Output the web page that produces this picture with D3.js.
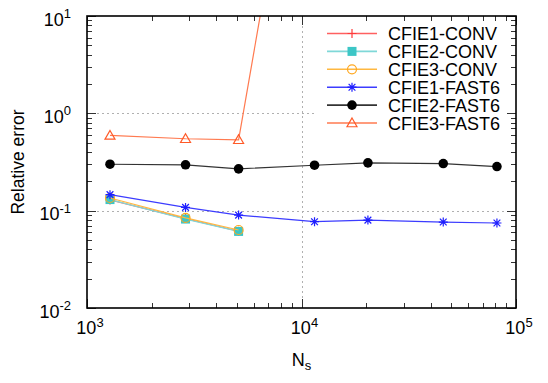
<!DOCTYPE html>
<html lang="en">
<head>
<meta charset="UTF-8" />
<script src="https://cdnjs.cloudflare.com/ajax/libs/d3/7.8.5/d3.min.js"></script>
<style>
body { margin: 0; background: #fff; }
svg text { font-family: "Liberation Sans", Arial, sans-serif; fill: #000; }
</style>
</head>
<body>
<svg id="chart" width="548" height="383"></svg>
<script>

// sample counts (x values)
const nsShort = [1280, 2880, 5090];
const nsLong = [1280, 2880, 5090, 11500, 20400, 45800, 81500];

const cfie1Conv = [0.129, 0.083, 0.0615];
const cfie2Conv = [0.130, 0.082, 0.0612];
const cfie3Conv = [0.135, 0.0842, 0.0633];
const cfie1Fast = [0.146, 0.108, 0.090, 0.077, 0.080, 0.0764, 0.0747];
const cfie2Fast = [0.300, 0.296, 0.269, 0.293, 0.310, 0.305, 0.284];
const cfie3FastX = [1280, 2880, 5090, 11500];
const cfie3Fast = [0.593, 0.548, 0.535, 16000];

const xTicks = [1e3, 1e4, 1e5];
const yTicks = [1e-2, 1e-1, 1e0, 1e1];

const series = [
  { name: 'CFIE1-CONV', xs: nsShort, ys: cfie1Conv, color: '#ff3a3a', line: '#ff6060', marker: 'plus' },
  { name: 'CFIE2-CONV', xs: nsShort, ys: cfie2Conv, color: '#3cc6c6', line: '#7fd8d8', marker: 'square' },
  { name: 'CFIE3-CONV', xs: nsShort, ys: cfie3Conv, color: '#ffa820', line: '#ffb840', marker: 'ocircle' },
  { name: 'CFIE1-FAST6', xs: nsLong, ys: cfie1Fast, color: '#1e1eff', line: '#3c3cff', marker: 'star' },
  { name: 'CFIE2-FAST6', xs: nsLong, ys: cfie2Fast, color: '#000000', line: '#333333', marker: 'dot' },
  { name: 'CFIE3-FAST6', xs: cfie3FastX, ys: cfie3Fast, color: '#ff5a28', line: '#ff7a50', marker: 'triangle' }
];

const margin = { left: 87, right: 32, top: 16, bottom: 75 };
const W = 548, H = 383;
const x = d3.scaleLog().domain([1e3, 1e5]).range([margin.left, W - margin.right]);
const y = d3.scaleLog().domain([1e-2, 1e1]).range([H - margin.bottom, margin.top]);

const svg = d3.select('#chart');

svg.append('defs').append('clipPath').attr('id', 'plotclip')
  .append('rect')
  .attr('x', x.range()[0]).attr('y', y.range()[1])
  .attr('width', x.range()[1] - x.range()[0])
  .attr('height', y.range()[0] - y.range()[1]);

// grid
const grid = svg.append('g').attr('stroke', '#b0b0b0').attr('stroke-dasharray', '2,3').attr('stroke-width', 1);
[1e-1, 1e0].forEach(v => {
  grid.append('line')
    .attr('x1', x.range()[0]).attr('x2', x.range()[1])
    .attr('y1', Math.round(y(v)) + 0.5).attr('y2', Math.round(y(v)) + 0.5);
});
grid.append('line')
  .attr('x1', Math.round(x(1e4)) + 0.5).attr('x2', Math.round(x(1e4)) + 0.5)
  .attr('y1', y.range()[1]).attr('y2', y.range()[0]);

// legend background hides grid behind it
svg.append('rect')
  .attr('x', 317).attr('y', y.range()[1] + 1)
  .attr('width', x.range()[1] - 317 - 1).attr('height', 118)
  .attr('fill', '#fff');

function drawMarker(g, type, color, cx, cy) {
  const s = 4.5;
  if (type === 'plus') {
    g.append('path').attr('d', `M${cx - s},${cy}H${cx + s}M${cx},${cy - s}V${cy + s}`)
      .attr('stroke', color).attr('stroke-width', 1.2).attr('fill', 'none');
  } else if (type === 'square') {
    g.append('rect').attr('x', cx - s).attr('y', cy - s).attr('width', 2 * s).attr('height', 2 * s)
      .attr('fill', color);
  } else if (type === 'ocircle') {
    g.append('circle').attr('cx', cx).attr('cy', cy).attr('r', s)
      .attr('fill', 'none').attr('stroke', color).attr('stroke-width', 1.2);
  } else if (type === 'star') {
    const d = s * 0.75;
    g.append('path')
      .attr('d', `M${cx - s},${cy}H${cx + s}M${cx},${cy - s}V${cy + s}M${cx - d},${cy - d}L${cx + d},${cy + d}M${cx - d},${cy + d}L${cx + d},${cy - d}`)
      .attr('stroke', color).attr('stroke-width', 1.2).attr('fill', 'none');
  } else if (type === 'dot') {
    g.append('circle').attr('cx', cx).attr('cy', cy).attr('r', s + 0.3).attr('fill', color);
  } else if (type === 'triangle') {
    const t = 5;
    g.append('path')
      .attr('d', `M${cx},${cy - t}L${cx + t},${cy + t * 0.75}L${cx - t},${cy + t * 0.75}Z`)
      .attr('fill', 'none').attr('stroke', color).attr('stroke-width', 1.2);
  }
}

const line = d3.line().x(d => x(d[0])).y(d => y(d[1]));
const plot = svg.append('g').attr('clip-path', 'url(#plotclip)');

series.forEach(s => {
  const pts = s.xs.map((v, i) => [v, s.ys[i]]);
  plot.append('path').attr('d', line(pts))
    .attr('fill', 'none').attr('stroke', s.line).attr('stroke-width', 1.2);
  const mg = plot.append('g');
  pts.forEach(p => drawMarker(mg, s.marker, s.color, x(p[0]), y(p[1])));
});

// legend
const leg = svg.append('g');
series.forEach((s, i) => {
  const ly = 33.5 + i * 17.9;
  leg.append('line').attr('x1', 327).attr('x2', 377).attr('y1', ly).attr('y2', ly)
    .attr('stroke', s.line).attr('stroke-width', 1.6);
  drawMarker(leg, s.marker, s.color, 352, ly);
  leg.append('text').attr('x', 388).attr('y', ly + 6.5).attr('font-size', 18).text(s.name);
});

// axes with inward ticks on all four sides
const frame = svg.append('g');
const x0 = x.range()[0], x1 = x.range()[1], y0 = y.range()[0], y1 = y.range()[1];

const xMinor = [];
for (let e = 3; e < 5; e++) for (let m = 2; m <= 9; m++) xMinor.push(m * Math.pow(10, e));
const yMinor = [];
for (let e = -2; e < 1; e++) for (let m = 2; m <= 9; m++) yMinor.push(m * Math.pow(10, e));

const tickG = frame.append('g').attr('stroke', '#333').attr('stroke-width', 1);
xMinor.forEach(v => {
  const px = Math.round(x(v)) + 0.5;
  tickG.append('line').attr('x1', px).attr('x2', px).attr('y1', y0).attr('y2', y0 - 5);
  tickG.append('line').attr('x1', px).attr('x2', px).attr('y1', y1).attr('y2', y1 + 5);
});
xTicks.forEach(v => {
  const px = Math.round(x(v)) + 0.5;
  tickG.append('line').attr('x1', px).attr('x2', px).attr('y1', y0).attr('y2', y0 - 9);
  tickG.append('line').attr('x1', px).attr('x2', px).attr('y1', y1).attr('y2', y1 + 9);
});
yMinor.forEach(v => {
  const py = Math.round(y(v)) + 0.5;
  tickG.append('line').attr('x1', x0).attr('x2', x0 + 5).attr('y1', py).attr('y2', py);
  tickG.append('line').attr('x1', x1).attr('x2', x1 - 5).attr('y1', py).attr('y2', py);
});
yTicks.forEach(v => {
  const py = Math.round(y(v)) + 0.5;
  tickG.append('line').attr('x1', x0).attr('x2', x0 + 9).attr('y1', py).attr('y2', py);
  tickG.append('line').attr('x1', x1).attr('x2', x1 - 9).attr('y1', py).attr('y2', py);
});

frame.append('rect')
  .attr('x', x0).attr('y', y1).attr('width', x1 - x0).attr('height', y0 - y1)
  .attr('fill', 'none').attr('stroke', '#000').attr('stroke-width', 1.6);

function powLabel(g, px, py, exp, anchor) {
  const t = g.append('text').attr('x', px).attr('y', py).attr('font-size', 18).attr('text-anchor', anchor);
  t.append('tspan').text('10');
  t.append('tspan').attr('dy', -7.5).attr('font-size', 13).text(exp);
}

xTicks.forEach(v => powLabel(svg, x(v) + 3, y0 + 26, Math.round(Math.log10(v)), 'middle'));
yTicks.forEach(v => powLabel(svg, x0 - 16, y(v) + 9.5, Math.round(Math.log10(v)), 'end'));

// axis titles
const xt = svg.append('text').attr('x', x(1e4)).attr('y', 366).attr('font-size', 18).attr('text-anchor', 'middle');
xt.append('tspan').text('N');
xt.append('tspan').attr('dy', 4).attr('font-size', 13).text('s');

svg.append('text')
  .attr('transform', `translate(24,${(y0 + y1) / 2}) rotate(-90)`)
  .attr('font-size', 17.5).attr('text-anchor', 'middle')
  .text('Relative error');

</script>
</body>
</html>
